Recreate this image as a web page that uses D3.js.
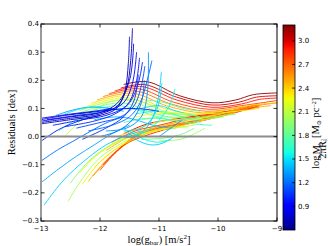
<!DOCTYPE html>
<html>
<head>
<meta charset="utf-8">
<script src="https://cdn.jsdelivr.net/npm/d3@7"></script>
<style>
  body { margin: 0; background: #fff; }
  svg { display: block; }
  .tick-label { font-family: "DejaVu Sans", sans-serif; font-size: 7px; fill: #000; }
  .axis-title { font-family: "Liberation Serif", "DejaVu Serif", serif; font-size: 10.5px; fill: #000; }
</style>
</head>
<body>
<div id="chart"></div>
<script>
// ticks
var xTicks = [-13, -12, -11, -10, -9];
var yTicks = [-0.3, -0.2, -0.1, 0.0, 0.1, 0.2, 0.3, 0.4];
var cbTicks = [0.9, 1.2, 1.5, 1.8, 2.1, 2.4, 2.7, 3.0];
var cbDomain = [0.6, 3.2];

// residual curves: c = log surface density, p = [log gbar, residual]
var humpCurves = [
  { c: 3.15, p: [[-11.6, 0.185], [-11.2, 0.195], [-10.65, 0.145], [-10.1, 0.12], [-9.7, 0.13], [-9.4, 0.149], [-9.0, 0.155]] },
  { c: 3.0, p: [[-11.65, 0.172], [-11.25, 0.185], [-10.7, 0.14], [-10.1, 0.112], [-9.65, 0.122], [-9.35, 0.14], [-9.0, 0.145]] },
  { c: 2.9, p: [[-11.75, 0.162], [-11.3, 0.178], [-10.7, 0.13], [-10.1, 0.104], [-9.6, 0.116], [-9.3, 0.132], [-9.0, 0.137]] },
  { c: 2.8, p: [[-11.85, 0.152], [-11.35, 0.17], [-10.75, 0.122], [-10.15, 0.097], [-9.6, 0.11], [-9.0, 0.128]] },
  { c: 2.65, p: [[-11.95, 0.142], [-11.4, 0.162], [-10.8, 0.116], [-10.2, 0.09], [-9.6, 0.104], [-9.0, 0.12]] },
  { c: 2.5, p: [[-12.05, 0.13], [-11.45, 0.154], [-10.85, 0.108], [-10.25, 0.084], [-9.6, 0.098], [-9.1, 0.11]] },
  { c: 2.35, p: [[-12.15, 0.118], [-11.5, 0.146], [-10.9, 0.1], [-10.3, 0.078], [-9.7, 0.09], [-9.3, 0.1]] },
  { c: 2.2, p: [[-12.25, 0.105], [-11.55, 0.138], [-10.95, 0.094], [-10.4, 0.072], [-9.9, 0.075]] },
  { c: 2.05, p: [[-12.35, 0.092], [-11.6, 0.13], [-11.0, 0.088], [-10.5, 0.066]] },
  { c: 1.9, p: [[-12.4, 0.08], [-11.65, 0.12], [-11.05, 0.08], [-10.6, 0.06]] },
  { c: 1.75, p: [[-12.45, 0.07], [-11.7, 0.11], [-11.1, 0.075], [-10.7, 0.05]] },
  { c: 2.1, p: [[-12.6, 0.0], [-12.2, 0.08], [-11.8, 0.125], [-11.4, 0.13], [-11.0, 0.1]] }
];

var risingCurves = [
  { c: 2.05, p: [[-12.54, -0.23], [-12.3, -0.15], [-12.0, -0.075], [-11.6, -0.02], [-11.2, 0.015], [-10.8, 0.03], [-10.5, 0.035]] },
  { c: 1.95, p: [[-12.5, -0.165], [-12.25, -0.1], [-11.9, -0.04], [-11.5, 0.0], [-11.1, 0.02], [-10.7, 0.03]] },
  { c: 2.2, p: [[-12.35, -0.13], [-12.05, -0.065], [-11.7, -0.015], [-11.3, 0.02], [-10.9, 0.04], [-10.4, 0.06], [-9.9, 0.08]] },
  { c: 2.3, p: [[-12.3, -0.17], [-12.0, -0.09], [-11.6, -0.025], [-11.2, 0.015], [-10.7, 0.04], [-10.2, 0.065], [-9.7, 0.09], [-9.45, 0.1]] },
  { c: 2.45, p: [[-12.2, -0.16], [-11.9, -0.085], [-11.5, -0.02], [-11.1, 0.02], [-10.6, 0.045], [-10.1, 0.07], [-9.6, 0.095], [-9.35, 0.105]] },
  { c: 2.6, p: [[-12.12, -0.14], [-11.8, -0.07], [-11.32, 0.014], [-10.9, 0.035], [-10.47, 0.048], [-10.0, 0.07], [-9.51, 0.096], [-9.3, 0.105]] },
  { c: 2.75, p: [[-12.0, -0.12], [-11.7, -0.05], [-11.3, 0.01], [-10.8, 0.04], [-10.3, 0.06], [-9.8, 0.085], [-9.4, 0.108]] },
  { c: 2.9, p: [[-11.95, -0.1], [-11.6, -0.03], [-11.27, 0.0], [-10.81, 0.03], [-10.3, 0.055], [-9.8, 0.08], [-9.3, 0.11]] },
  { c: 2.85, p: [[-11.8, -0.02], [-11.4, 0.02], [-11.0, 0.04], [-10.5, 0.065], [-10.08, 0.078], [-9.7, 0.095], [-9.34, 0.113]] },
  { c: 3.0, p: [[-11.6, 0.01], [-11.2, 0.045], [-10.8, 0.06], [-10.3, 0.075], [-9.8, 0.09]] },
  { c: 2.5, p: [[-11.9, -0.05], [-11.5, 0.0], [-11.0, 0.035], [-10.5, 0.06], [-10.0, 0.08], [-9.5, 0.105], [-9.2, 0.115]] },
  { c: 2.35, p: [[-12.1, -0.11], [-11.7, -0.04], [-11.2, 0.01], [-10.7, 0.035], [-10.2, 0.06], [-9.7, 0.085]] },
  { c: 2.15, p: [[-12.2, -0.09], [-11.8, -0.03], [-11.3, 0.01], [-10.8, 0.03], [-10.4, 0.04]] },
  { c: 2.4, p: [[-11.7, 0.0], [-11.2, 0.04], [-10.6, 0.07], [-10.0, 0.09], [-9.5, 0.11], [-9.0, 0.12]] },
  { c: 2.0, p: [[-11.0, -0.015], [-10.64, -0.01], [-10.4, 0.01], [-10.22, 0.03]] },
  { c: 1.85, p: [[-11.3, -0.01], [-10.9, -0.005], [-10.6, 0.01], [-10.4, 0.03]] }
];

var midCurves = [
  { c: 1.6, p: [[-11.4, 0.08], [-11.0, 0.09], [-10.6, 0.07], [-10.3, 0.05]] },
  { c: 1.5, p: [[-11.3, 0.1], [-11.0, 0.11], [-10.7, 0.09], [-10.4, 0.075]] },
  { c: 1.7, p: [[-11.6, 0.05], [-11.2, 0.065], [-10.8, 0.06], [-10.4, 0.045], [-10.1, 0.04]] },
  { c: 1.45, p: [[-11.6, 0.03], [-11.35, -0.015], [-11.1, -0.03], [-10.9, -0.02], [-10.75, 0.0]] },
  { c: 1.55, p: [[-11.5, 0.02], [-11.25, -0.01], [-11.0, -0.02], [-10.8, -0.01]] },
  { c: 1.4, p: [[-12.1, 0.06], [-11.7, 0.07], [-11.4, 0.06], [-11.1, 0.04], [-10.8, 0.03]] },
  { c: 1.35, p: [[-12.75, 0.075], [-12.45, 0.095], [-12.15, 0.105], [-11.85, 0.1], [-11.6, 0.09]] },
  { c: 1.5, p: [[-12.6, 0.08], [-12.3, 0.1], [-12.0, 0.105], [-11.7, 0.095]] },
  { c: 1.65, p: [[-12.7, 0.02], [-12.4, 0.06], [-12.0, 0.09], [-11.6, 0.1], [-11.2, 0.09]] },
  { c: 1.8, p: [[-11.2, 0.13], [-10.9, 0.12], [-10.6, 0.1], [-10.3, 0.09]] },
  { c: 1.3, p: [[-11.0, 0.0], [-10.8, 0.03], [-10.6, 0.06]] },
  { c: 1.9, p: [[-11.3, 0.06], [-10.9, 0.07], [-10.5, 0.065], [-10.1, 0.07], [-9.7, 0.08]] },
  { c: 2.0, p: [[-11.1, 0.05], [-10.7, 0.06], [-10.3, 0.06], [-9.9, 0.07]] },
  { c: 1.75, p: [[-11.0, 0.08], [-10.6, 0.08], [-10.3, 0.07]] },
  { c: 2.25, p: [[-11.4, 0.07], [-10.9, 0.085], [-10.4, 0.08], [-9.9, 0.085], [-9.5, 0.095]] }
];

var edgeCurves = [
  { c: 1.0, p: [[-13.0, -0.017], [-12.7, 0.025], [-12.29, 0.06], [-12.0, 0.075]] },
  { c: 1.2, p: [[-13.0, -0.087], [-12.7, -0.045], [-12.46, -0.017], [-12.15, 0.02], [-11.88, 0.05], [-11.6, 0.07]] },
  { c: 1.35, p: [[-13.0, -0.164], [-12.7, -0.115], [-12.4, -0.07], [-12.1, -0.03], [-11.8, 0.01], [-11.5, 0.04]] },
  { c: 1.45, p: [[-12.95, -0.244], [-12.7, -0.175], [-12.5, -0.13], [-12.2, -0.075], [-11.9, -0.03], [-11.6, 0.0], [-11.3, 0.02]] }
];

var blueHooks = [
  { c: 0.9, p: [[-13.0, 0.06], [-12.6, 0.075], [-12.2, 0.085], [-11.8, 0.095], [-11.4, 0.1], [-11.0, 0.09]] },
  { c: 0.8, p: [[-13.0, 0.065], [-12.5, 0.08], [-12.1, 0.09], [-11.8, 0.1]] },
  { c: 0.70, p: [[-13.0, 0.05], [-12.5, 0.065], [-12.0, 0.08], [-11.7, 0.11], [-11.55, 0.17], [-11.48, 0.27], [-11.45, 0.385]] },
  { c: 0.75, p: [[-13.0, 0.045], [-12.5, 0.06], [-12.0, 0.075], [-11.72, 0.1], [-11.58, 0.16], [-11.52, 0.26], [-11.5, 0.355]] },
  { c: 0.82, p: [[-13.0, 0.055], [-12.5, 0.07], [-12.0, 0.085], [-11.7, 0.12], [-11.5, 0.2], [-11.43, 0.33]] },
  { c: 0.88, p: [[-12.9, 0.06], [-12.4, 0.075], [-11.9, 0.09], [-11.6, 0.12], [-11.45, 0.19], [-11.38, 0.3]] },
  { c: 0.95, p: [[-12.8, 0.04], [-12.3, 0.06], [-11.9, 0.075], [-11.55, 0.11], [-11.4, 0.18], [-11.33, 0.28]] },
  { c: 1.02, p: [[-12.6, 0.035], [-12.1, 0.055], [-11.75, 0.08], [-11.5, 0.12], [-11.35, 0.19], [-11.28, 0.265]] },
  { c: 1.05, p: [[-12.3, -0.01], [-11.9, 0.03], [-11.6, 0.07], [-11.42, 0.13], [-11.35, 0.22]] },
  { c: 1.1, p: [[-12.4, 0.03], [-12.0, 0.05], [-11.65, 0.07], [-11.42, 0.11], [-11.3, 0.18], [-11.24, 0.25]] },
  { c: 1.18, p: [[-12.2, 0.02], [-11.8, 0.04], [-11.5, 0.07], [-11.32, 0.12], [-11.2, 0.2], [-11.12, 0.27]] },
  { c: 1.2, p: [[-12.0, 0.0], [-11.7, 0.02], [-11.45, 0.06], [-11.3, 0.12], [-11.25, 0.2]] },
  { c: 1.3, p: [[-11.9, 0.02], [-11.55, 0.03], [-11.3, 0.07], [-11.2, 0.15], [-11.18, 0.3]] },
  { c: 1.45, p: [[-11.7, 0.0], [-11.4, 0.0], [-11.15, 0.05], [-11.02, 0.13], [-10.96, 0.23]] },
  { c: 1.5, p: [[-11.6, 0.02], [-11.3, 0.03], [-11.1, 0.07], [-11.0, 0.12], [-10.95, 0.19]] },
  { c: 1.55, p: [[-11.5, 0.0], [-11.2, 0.02], [-10.95, 0.07], [-10.8, 0.12], [-10.73, 0.17]] }
];

var width = 328, height = 246;
var plot = { left: 41, right: 277, top: 24, bottom: 221 };
var bar = { left: 283, right: 295, top: 25, bottom: 230 };

var svg = d3.select("#chart").append("svg")
    .attr("width", width)
    .attr("height", height);

var x = d3.scaleLinear().domain([-13, -9]).range([plot.left, plot.right]);
var y = d3.scaleLinear().domain([-0.3, 0.4]).range([plot.bottom, plot.top]);
var cScale = d3.scaleLinear().domain(cbDomain).range([bar.bottom, bar.top]);

// matplotlib jet
var jetR = d3.scaleLinear().domain([0, 0.35, 0.66, 0.89, 1]).range([0, 0, 1, 1, 0.5]).clamp(true);
var jetG = d3.scaleLinear().domain([0, 0.125, 0.375, 0.64, 0.91, 1]).range([0, 0, 1, 1, 0, 0]).clamp(true);
var jetB = d3.scaleLinear().domain([0, 0.11, 0.34, 0.65, 1]).range([0.5, 1, 1, 0, 0]).clamp(true);
var norm = d3.scaleLinear().domain(cbDomain).range([0, 1]).clamp(true);
var jet = function (v) {
    var t = norm(v);
    return d3.rgb(jetR(t) * 255, jetG(t) * 255, jetB(t) * 255).toString();
};

var defs = svg.append("defs");
defs.append("clipPath").attr("id", "plotclip")
    .append("rect")
    .attr("x", plot.left).attr("y", plot.top)
    .attr("width", plot.right - plot.left).attr("height", plot.bottom - plot.top);

var line = d3.line()
    .x(function (d) { return x(d[0]); })
    .y(function (d) { return y(d[1]); })
    .curve(d3.curveCatmullRom.alpha(0.5));

var curves = svg.append("g").attr("clip-path", "url(#plotclip)");
var groups = [humpCurves, risingCurves, midCurves, edgeCurves, blueHooks];
groups.forEach(function (set) {
    curves.selectAll(null)
        .data(set)
        .enter()
        .append("path")
        .attr("d", function (d) { return line(d.p); })
        .attr("fill", "none")
        .attr("stroke", function (d) { return jet(d.c); })
        .attr("stroke-width", 1)
        .attr("stroke-opacity", 0.9);
});

// zero line
svg.append("line")
    .attr("x1", plot.left).attr("x2", plot.right)
    .attr("y1", y(0)).attr("y2", y(0))
    .attr("stroke", "#8c8c8c").attr("stroke-width", 2);

// frame
svg.append("rect")
    .attr("x", plot.left).attr("y", plot.top)
    .attr("width", plot.right - plot.left).attr("height", plot.bottom - plot.top)
    .attr("fill", "none").attr("stroke", "#000").attr("stroke-width", 1);
svg.append("line")
    .attr("x1", x(-13)).attr("x2", x(-13))
    .attr("y1", plot.top).attr("y2", plot.bottom)
    .attr("stroke", "#9a9a9a").attr("stroke-width", 2);

// ticks (inward, all sides)
var tl = 3.5;
var ax = svg.append("g").attr("stroke", "#000").attr("stroke-width", 0.8);
xTicks.forEach(function (t) {
    ax.append("line").attr("x1", x(t)).attr("x2", x(t)).attr("y1", plot.bottom).attr("y2", plot.bottom - tl);
    ax.append("line").attr("x1", x(t)).attr("x2", x(t)).attr("y1", plot.top).attr("y2", plot.top + tl);
});
yTicks.forEach(function (t) {
    ax.append("line").attr("x1", plot.left).attr("x2", plot.left + tl).attr("y1", y(t)).attr("y2", y(t));
    ax.append("line").attr("x1", plot.right).attr("x2", plot.right - tl).attr("y1", y(t)).attr("y2", y(t));
});

var fmtMinus = function (s) { return s.replace("-", "\u2212"); };
svg.selectAll(".xlab").data(xTicks).enter().append("text")
    .attr("class", "tick-label")
    .attr("x", function (d) { return x(d); })
    .attr("y", plot.bottom + 10)
    .attr("text-anchor", "middle")
    .text(function (d) { return fmtMinus(String(d)); });
svg.selectAll(".ylab").data(yTicks).enter().append("text")
    .attr("class", "tick-label")
    .attr("x", plot.left - 2)
    .attr("y", function (d) { return y(d); })
    .attr("dy", "0.35em")
    .attr("text-anchor", "end")
    .text(function (d) { return fmtMinus(d3.format(".1f")(d)); });

// axis titles
svg.append("text").attr("class", "axis-title")
    .attr("transform", "translate(15," + ((plot.top + plot.bottom) / 2) + ") rotate(-90)")
    .attr("text-anchor", "middle")
    .text("Residuals [dex]");
var xt = svg.append("text").attr("class", "axis-title")
    .attr("x", (plot.left + plot.right) / 2).attr("y", 243)
    .attr("text-anchor", "middle");
xt.append("tspan").text("log(g");
xt.append("tspan").attr("font-size", "7px").attr("dy", 2).text("bar");
xt.append("tspan").attr("dy", -2).text(") [m/s");
xt.append("tspan").attr("font-size", "7px").attr("dy", -4).text("2");
xt.append("tspan").attr("dy", 4).text("]");

// colorbar
var grad = defs.append("linearGradient").attr("id", "jetgrad")
    .attr("x1", 0).attr("x2", 0).attr("y1", 1).attr("y2", 0);
d3.range(0, 1.0001, 0.02).forEach(function (t) {
    grad.append("stop").attr("offset", t).attr("stop-color", jet(cbDomain[0] + t * (cbDomain[1] - cbDomain[0])));
});
svg.append("rect")
    .attr("x", bar.left).attr("y", bar.top)
    .attr("width", bar.right - bar.left).attr("height", bar.bottom - bar.top)
    .attr("fill", "url(#jetgrad)").attr("stroke", "#000").attr("stroke-width", 0.8);
cbTicks.forEach(function (t) {
    svg.append("line").attr("x1", bar.right).attr("x2", bar.right - 3)
        .attr("y1", cScale(t)).attr("y2", cScale(t))
        .attr("stroke", "#000").attr("stroke-width", 0.8);
});
svg.selectAll(".cblab").data(cbTicks).enter().append("text")
    .attr("class", "tick-label")
    .attr("x", bar.right + 3)
    .attr("y", function (d) { return cScale(d); })
    .attr("dy", "0.35em")
    .text(function (d) { return d3.format(".1f")(d); });

// colorbar title, rotated (reads bottom to top)
var cb = svg.append("g").attr("transform", "translate(319,126) rotate(-90)");
cb.append("text").attr("class", "axis-title").attr("font-size", "9px")
    .attr("x", -43).attr("y", 0).text("log");
var num = cb.append("text").attr("class", "axis-title").attr("font-size", "5px")
    .attr("x", -23).attr("y", 0.5).attr("text-anchor", "middle");
num.append("tspan").text("M");
num.append("tspan").attr("font-size", "3.5px").attr("dy", 1).text("*");
cb.append("line").attr("x1", -30).attr("x2", -16).attr("y1", 1.8).attr("y2", 1.8)
    .attr("stroke", "#000").attr("stroke-width", 0.4);
var den = cb.append("text").attr("class", "axis-title").attr("font-size", "5px")
    .attr("x", -23).attr("y", 6.5).attr("text-anchor", "middle");
den.append("tspan").text("2\u03c0R");
den.append("tspan").attr("font-size", "3.5px").attr("dy", -2).text("2");
den.append("tspan").attr("font-size", "3.5px").attr("dx", -2).attr("dy", 3).text("d");
var cbu = cb.append("text").attr("class", "axis-title").attr("font-size", "9px").attr("x", -12).attr("y", 0);
cbu.append("tspan").text("[M");
cbu.append("tspan").attr("font-size", "6px").attr("dy", 1.5).text("\u2299");
cbu.append("tspan").attr("dy", -1.5).text(" pc");
cbu.append("tspan").attr("font-size", "6px").attr("dy", -3.5).text("\u22122");
cbu.append("tspan").attr("dy", 3.5).text("]");
</script>
</body>
</html>
